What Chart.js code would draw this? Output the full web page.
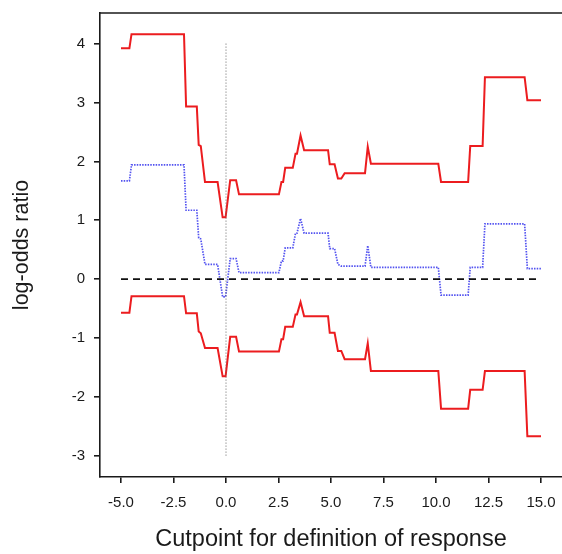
<!DOCTYPE html>
<html>
<head>
<meta charset="utf-8">
<title>log-odds ratio vs cutpoint</title>
<script src="https://cdn.jsdelivr.net/npm/chart.js@4.4.1/dist/chart.umd.min.js"></script>
<style>
    html, body { margin: 0; padding: 0; background: #fff; overflow: hidden; }
    #wrap { width: 562px; height: 554px; position: relative; }
</style>
</head>
<body>
<div id="wrap"><canvas id="oddsChart"></canvas></div>
<script>
// Cutpoints shared by the three step curves
const cutpoints = [-5.0, -4.6, -4.5, -2.0, -1.9, -1.39, -1.3, -1.2, -1.0, -0.4, -0.16, -0.02, 0.2, 0.48, 0.62,
    2.52, 2.64, 2.72, 2.82, 3.18, 3.31, 3.38, 3.55, 3.72, 4.86, 4.94, 5.17, 5.33, 5.49, 5.65,
    6.62, 6.75, 6.9, 10.11, 10.24, 11.53, 11.63, 12.22, 12.33, 14.22, 14.35, 15.0];

// Upper confidence limit (red)
const upperLimit = [3.92, 3.92, 4.16, 4.16, 2.93, 2.93, 2.28, 2.26, 1.65, 1.65, 1.05, 1.05, 1.68, 1.68, 1.44,
    1.44, 1.65, 1.65, 1.89, 1.89, 2.13, 2.13, 2.44, 2.19, 2.19, 1.95, 1.95, 1.71, 1.71, 1.80,
    1.80, 2.25, 1.96, 1.96, 1.65, 1.65, 2.26, 2.26, 3.43, 3.43, 3.04, 3.04];

// Estimated log-odds ratio (blue dotted)
const estimate = [1.67, 1.67, 1.94, 1.94, 1.17, 1.17, 0.70, 0.68, 0.25, 0.25, -0.30, -0.30, 0.35, 0.35, 0.11,
    0.11, 0.31, 0.31, 0.53, 0.53, 0.78, 0.78, 1.03, 0.78, 0.78, 0.52, 0.52, 0.25, 0.22, 0.22,
    0.22, 0.57, 0.20, 0.20, -0.27, -0.27, 0.20, 0.20, 0.94, 0.94, 0.18, 0.18];

// Lower confidence limit (red)
const lowerLimit = [-0.57, -0.57, -0.29, -0.29, -0.58, -0.58, -0.89, -0.92, -1.17, -1.17, -1.65, -1.65, -0.98, -0.98, -1.23,
    -1.23, -1.02, -1.02, -0.81, -0.81, -0.60, -0.60, -0.39, -0.63, -0.63, -0.91, -0.91, -1.22, -1.22, -1.36,
    -1.36, -1.09, -1.56, -1.56, -2.20, -2.20, -1.88, -1.88, -1.56, -1.56, -2.67, -2.67];

// Reference lines
const zeroLineX = [-5, 15];
const zeroLineY = [0, 0];
const cutLineX = [0, 0];
const cutLineY = [4, -3];

// Axis ticks
const xTicks = [-5.0, -2.5, 0.0, 2.5, 5.0, 7.5, 10.0, 12.5, 15.0];
const yTicks = [-3, -2, -1, 0, 1, 2, 3, 4];

const FONT = '"Liberation Sans", Arial, Helvetica, sans-serif';
const INK = '#1a1a1a';

function toPoints(xs, ys) {
    return xs.map((x, i) => ({ x: x, y: ys[i] }));
}

// no label overhang padding, so the plot box lands where the reference has it
function noPadding(scale) {
    scale.paddingTop = 0;
    scale.paddingBottom = 0;
    scale.paddingLeft = 0;
    scale.paddingRight = 0;
}

// Draws the top frame line
const topFrame = {
    id: 'topFrame',
    afterDraw(chart) {
        const { ctx, chartArea } = chart;
        ctx.save();
        ctx.strokeStyle = INK;
        ctx.lineWidth = 1.6;
        ctx.beginPath();
        ctx.moveTo(chartArea.left, chartArea.top);
        ctx.lineTo(chartArea.right, chartArea.top);
        ctx.stroke();
        ctx.restore();
    }
};

const lineStyle = { showLine: true, pointRadius: 0, pointHoverRadius: 0, tension: 0, fill: false };

new Chart(document.getElementById('oddsChart'), {
    type: 'scatter',
    data: {
        datasets: [
            {
                ...lineStyle,
                label: 'x = 0',
                data: toPoints(cutLineX, cutLineY),
                borderColor: '#666',
                borderWidth: 1,
                borderDash: [1, 2]
            },
            {
                ...lineStyle,
                label: 'zero',
                data: toPoints(zeroLineX, zeroLineY),
                borderColor: '#111',
                borderWidth: 1.8,
                borderDash: [7, 5]
            },
            {
                ...lineStyle,
                label: 'upper',
                data: toPoints(cutpoints, upperLimit),
                borderColor: '#ec1c1f',
                borderWidth: 2
            },
            {
                ...lineStyle,
                label: 'estimate',
                data: toPoints(cutpoints, estimate),
                borderColor: '#5252f0',
                borderWidth: 1.7,
                borderDash: [1.5, 1.2]
            },
            {
                ...lineStyle,
                label: 'lower',
                data: toPoints(cutpoints, lowerLimit),
                borderColor: '#ec1c1f',
                borderWidth: 2
            }
        ]
    },
    options: {
        responsive: true,
        maintainAspectRatio: false,
        animation: false,
        events: [],
        layout: { padding: { top: 13, right: 0, left: 0, bottom: 0 } },
        plugins: {
            legend: { display: false },
            tooltip: { enabled: false }
        },
        scales: {
            x: {
                type: 'linear',
                min: -6,
                max: 16,
                afterBuildTicks: scale => { scale.ticks = xTicks.map(v => ({ value: v })); },
                afterFit: scale => { scale.height = 77; noPadding(scale); },
                border: { display: true, color: INK, width: 1.6 },
                grid: { drawOnChartArea: false, drawTicks: true, tickLength: 6, color: INK, lineWidth: 1.6 },
                ticks: {
                    color: INK,
                    padding: 11,
                    maxRotation: 0,
                    font: { family: FONT, size: 15 },
                    callback: v => v.toFixed(1)
                },
                title: {
                    display: true,
                    text: 'Cutpoint for definition of response',
                    color: INK,
                    font: { family: FONT, size: 23.5 },
                    padding: { top: 0, bottom: 0 }
                }
            },
            y: {
                type: 'linear',
                min: -3.36,
                max: 4.52,
                afterBuildTicks: scale => { scale.ticks = yTicks.map(v => ({ value: v })); },
                afterFit: scale => { scale.width = 100; noPadding(scale); },
                border: { display: true, color: INK, width: 1.6 },
                grid: { drawOnChartArea: false, drawTicks: true, tickLength: 6, color: INK, lineWidth: 1.6 },
                ticks: {
                    color: INK,
                    padding: 9,
                    font: { family: FONT, size: 15 },
                    callback: v => String(v)
                },
                title: {
                    display: true,
                    text: 'log-odds ratio',
                    color: INK,
                    font: { family: FONT, size: 21.5 },
                    padding: { top: 9, bottom: 0 }
                }
            }
        }
    },
    plugins: [topFrame]
});
</script>
</body>
</html>
